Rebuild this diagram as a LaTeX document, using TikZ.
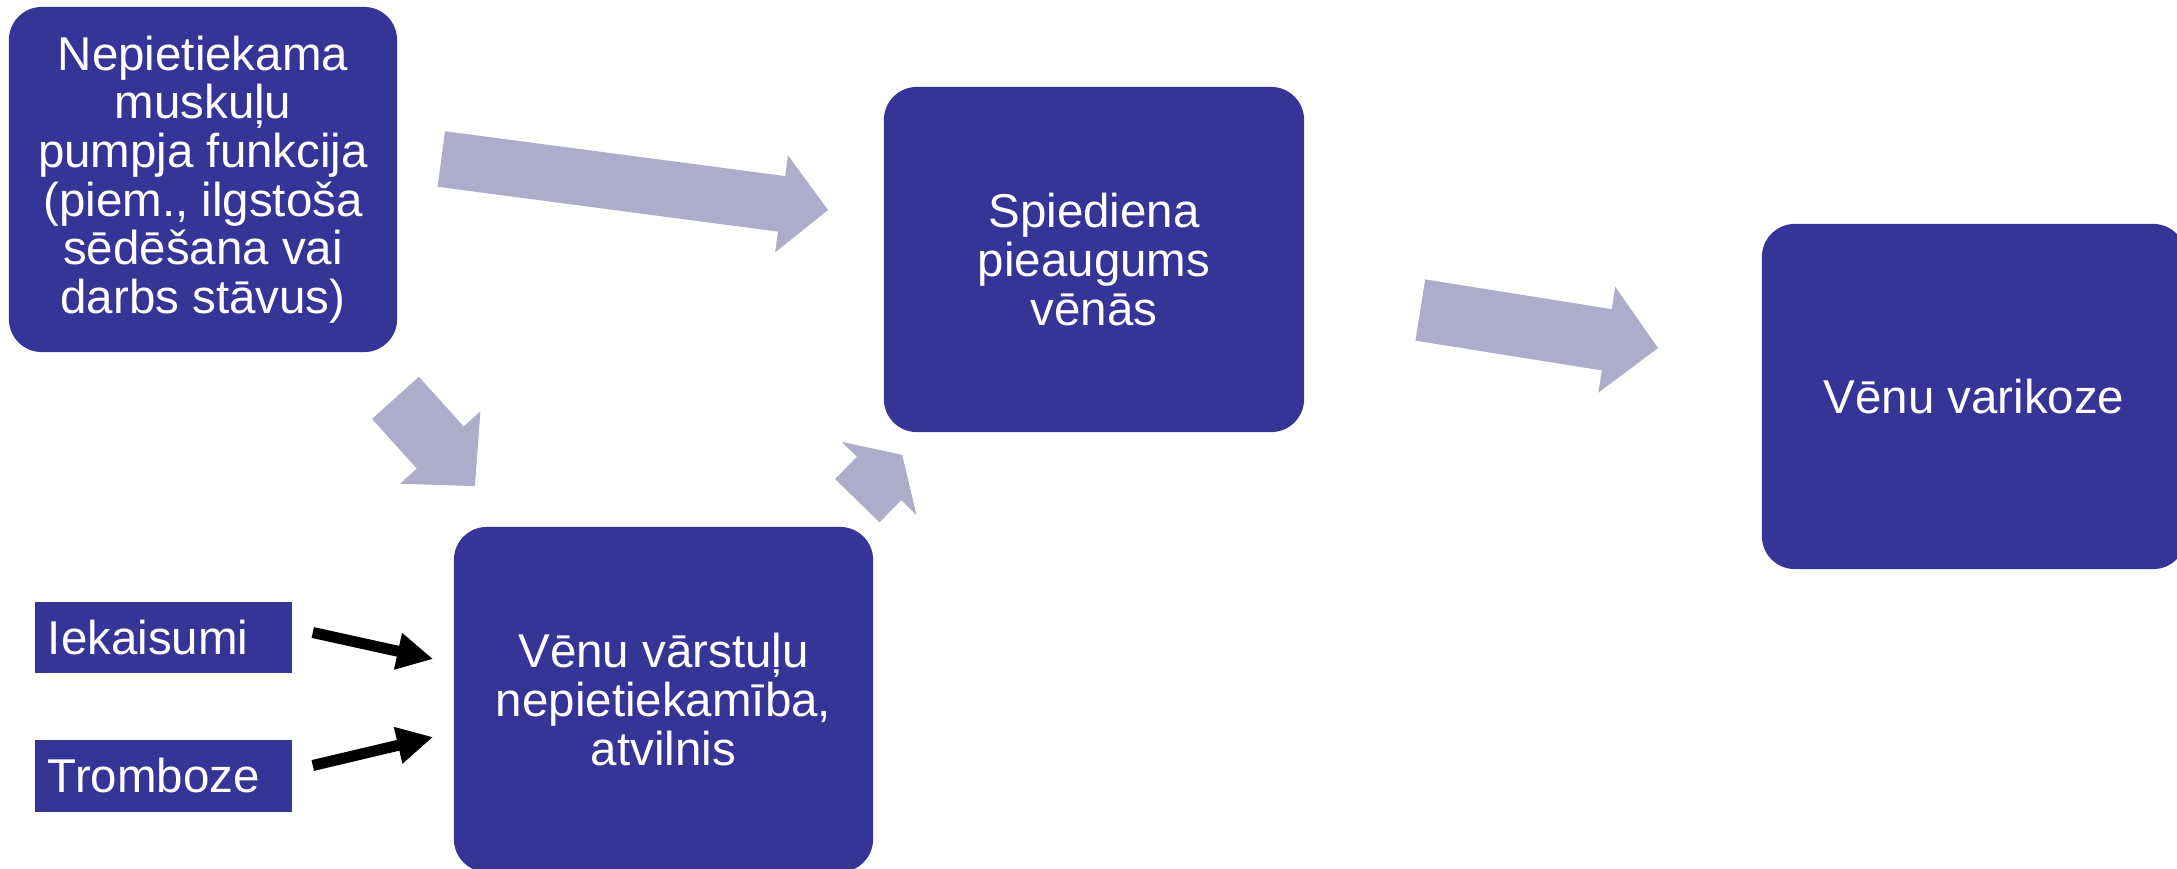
\documentclass[tikz,border=0pt]{standalone}
\usepackage{fontspec}
\setmainfont{Liberation Sans}
\usepackage{tikz}
\usetikzlibrary{arrows.meta, calc}
\definecolor{bleu}{RGB}{53,53,152}
\definecolor{gris}{RGB}{173,173,203}
\tikzstyle{boite} = [rectangle, rounded corners = 0.33cm, minimum width = 4.19cm, minimum height = 3.45cm, inner sep = 0pt, align = center, fill = bleu, text = white, font = \fontsize{13.5}{13.8}\selectfont]
\tikzstyle{etiquette} = [rectangle, minimum height = 0.71cm, text width = 2.31cm, inner xsep = 0.13cm, inner ysep = 0pt, align = left, fill = bleu, text = white, font = \fontsize{13.5}{13.8}\selectfont]
\tikzstyle{fleche} = [draw = gris]
\tikzstyle{noire} = [draw = black, line width = 0.11cm, -{Triangle[length = 0.36cm, width = 0.35cm]}]

\begin{document}
\begin{tikzpicture}[x = 0.01cm, y = -0.01cm]
\useasboundingbox (0,0) rectangle (2177,869) ;
\clip (0,0) rectangle (2177,869) ;

\node (nep) [boite, minimum width = 3.88cm] at (203,179.5) {Nepietiekama\\muskuļu\\pumpja funkcija\\(piem., ilgstoša\\sēdēšana vai\\darbs stāvus)} ;
\node (valv) [boite] at (663.5,699.5) {Vēnu vārstuļu\\nepietiekamība,\\atvilnis} ;
\node (spied) [boite, minimum width = 4.2cm] at (1094,259.5) {Spiediena\\pieaugums\\vēnās} ;
\node (vari) [boite, minimum width = 4.24cm] at (1974,396.5) {Vēnu varikoze} ;

\node (iek) [etiquette] at (163.5,637.5) {Iekaisumi} ;
\node (trom) [etiquette] at (163.5,776) {Tromboze} ;

\draw[fleche, line width = 0.56cm, -{Triangle[length = 0.47cm, width = 0.95cm]}] ($(nep.east)+(43.5,-20.5)$) -- ($(spied.west)+(-55,-49.5)$) ;
\draw[fleche, line width = 0.63cm, -{Triangle[length = 0.52cm, width = 1.05cm]}] ($(nep.south)+(192.5,45)$) -- ($(valv.north)+(-188.5,-40)$) ;
\draw[fleche, line width = 0.62cm, -{Triangle[length = 0.33cm, width = 1.03cm]}] ($(valv.north east)+(-16.5,-25.5)$) -- ($(spied.south west)+(19,22)$) ;
\draw[fleche, line width = 0.62cm, -{Triangle[length = 0.52cm, width = 1.04cm]}] ($(spied.east)+(115.5,50.5)$) -- ($(vari.west)+(-103,-48.5)$) ;

\draw[noire] ($(iek.east)+(20,-5)$) -- ($(valv.west)+(-20,-40.5)$) ;
\draw[noire] ($(trom.east)+(20,-10.5)$) -- ($(valv.west)+(-20,37.5)$) ;
\end{tikzpicture}
\end{document}
